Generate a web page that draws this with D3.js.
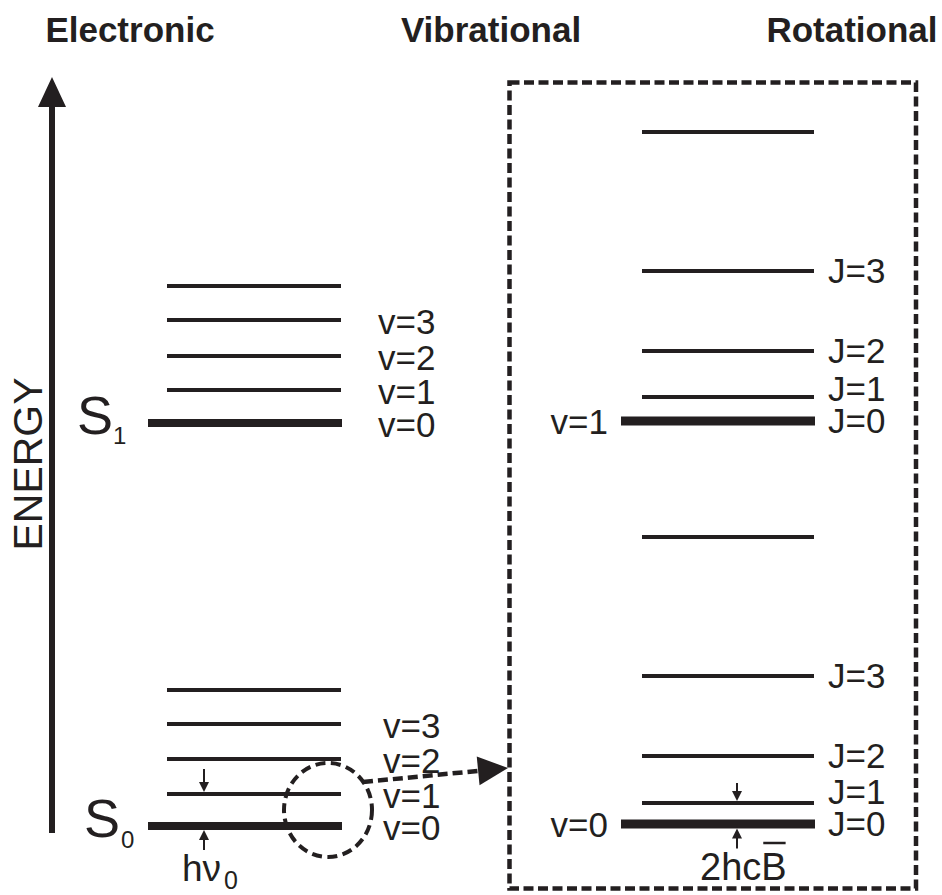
<!DOCTYPE html>
<html>
<head>
<meta charset="utf-8">
<script src="https://cdn.jsdelivr.net/npm/d3@7"></script>
<style>
  html, body { margin: 0; padding: 0; background: #fff; }
  svg { display: block; }
  text { font-family: "Liberation Sans", Arial, Helvetica, sans-serif; fill: #231f20; }
</style>
</head>
<body>
<svg id="chart" width="942" height="895"></svg>
<script>
// ---------- data ----------
const panelTitles = ["Electronic", "Vibrational", "Rotational"];
const axisLabel = "ENERGY";

// electronic states (energy, arbitrary units; S0 v=0 = 0)
const electronicStates = ["S0", "S1"];
const s0VibLevels = [0, 32, 67, 102, 136];       // v = 0..4
const s1VibLevels = [403, 436, 470, 506, 540];   // v = 0..4
const vibLabels = ["v=0", "v=1", "v=2", "v=3"];

// rotational structure (energy, arbitrary units; v=0,J=0 = 0)
const rotV0Levels = [0, 21, 68, 148, 287];        // J = 0..4
const rotV1Origin = 403;
const rotV1Offsets = [0, 24, 70, 150, 289];       // J = 0..4 above v=1
const rotLabels = ["J=0", "J=1", "J=2", "J=3"];
const rotVibLabels = ["v=0", "v=1"];

// ---------- setup ----------
const ink = "#231f20";
const svg = d3.select("#chart");

// scales
const yLeft = d3.scaleLinear().domain([0, 749]).range([826, 77]);
const yRot = d3.scaleLinear().domain([0, 692]).range([824, 132]);
const xLeft = d3.scaleLinear().domain([0, 1]).range([167, 341]);
const xLeftThick = d3.scaleLinear().domain([0, 1]).range([148, 342]);
const xRot = d3.scaleLinear().domain([0, 1]).range([642, 814]);
const xRotThick = d3.scaleLinear().domain([0, 1]).range([621, 815]);
const xTitle = d3.scalePoint().domain(panelTitles).range([130, 852]);

// titles
svg.selectAll("text.title").data(panelTitles).join("text")
  .attr("class", "title")
  .attr("x", d => xTitle(d)).attr("y", 42)
  .attr("text-anchor", "middle")
  .style("font-weight", "bold").style("font-size", "35px")
  .text(d => d);

// energy axis arrow
const axisX = 52;
svg.append("line")
  .attr("x1", axisX).attr("x2", axisX)
  .attr("y1", yLeft(0) + 7).attr("y2", yLeft(749) + 30)
  .attr("stroke", ink).attr("stroke-width", 6);
svg.append("path")
  .attr("d", `M${axisX - 14},${yLeft(749) + 30} L${axisX + 14},${yLeft(749) + 30} L${axisX},${yLeft(749)} Z`)
  .attr("fill", ink);
svg.append("text")
  .attr("transform", `translate(42, 464) rotate(-90)`)
  .attr("text-anchor", "middle")
  .style("font-size", "41px")
  .text(axisLabel);

// vibrational level groups
function drawVibGroup(levels, labelX, sX, subX, stateName, subDy) {
  const g = svg.append("g");
  levels.forEach((e, i) => {
    const thick = i === 0;
    g.append("line")
      .attr("x1", thick ? xLeftThick(0) : xLeft(0))
      .attr("x2", thick ? xLeftThick(1) : xLeft(1))
      .attr("y1", yLeft(e)).attr("y2", yLeft(e))
      .attr("stroke", ink).attr("stroke-width", thick ? 8 : 4);
  });
  let prev = Infinity;
  vibLabels.forEach((lab, i) => {
    let b = Math.min(yLeft(levels[i]) + 13.5, prev - 32);
    prev = b;
    g.append("text").attr("x", labelX).attr("y", b)
      .style("font-size", "35px").text(lab);
  });
  const base = yLeft(levels[0]) + 11;
  g.append("text").attr("x", sX).attr("y", base)
    .style("font-size", "54px").text(stateName[0]);
  g.append("text").attr("x", subX).attr("y", base + subDy)
    .style("font-size", "24px").text(stateName[1]);
  return g;
}
drawVibGroup(s1VibLevels, 378, 77, 113, electronicStates[1], 10);
drawVibGroup(s0VibLevels, 383, 84, 121, electronicStates[0], 11);

// small arrows
function arrowDown(x, tipY, len) {
  svg.append("line").attr("x1", x).attr("x2", x).attr("y1", tipY - len).attr("y2", tipY - 8)
    .attr("stroke", ink).attr("stroke-width", 2);
  svg.append("path").attr("d", `M${x - 5},${tipY - 10} L${x + 5},${tipY - 10} L${x},${tipY} Z`).attr("fill", ink);
}
function arrowUp(x, tipY, len) {
  svg.append("line").attr("x1", x).attr("x2", x).attr("y1", tipY + 8).attr("y2", tipY + len)
    .attr("stroke", ink).attr("stroke-width", 2);
  svg.append("path").attr("d", `M${x - 5},${tipY + 10} L${x + 5},${tipY + 10} L${x},${tipY} Z`).attr("fill", ink);
}
arrowDown(204, yLeft(s0VibLevels[1]) - 2, 23);
arrowUp(204, yLeft(s0VibLevels[0]) + 4, 20);

// h nu_0
svg.append("text").attr("x", 182).attr("y", 881).style("font-size", "37px").text("hν");
svg.append("text").attr("x", 224).attr("y", 889).style("font-size", "25px").text("0");

// dashed ellipse & dashed arrow
svg.append("ellipse")
  .attr("cx", 328).attr("cy", 810).attr("rx", 44).attr("ry", 47)
  .attr("fill", "none").attr("stroke", ink).attr("stroke-width", 4)
  .attr("stroke-dasharray", "10,5.5");
const tip = [508, 768], start = [363, 782];
const dx = tip[0] - start[0], dy = tip[1] - start[1], L = Math.hypot(dx, dy);
const ux = dx / L, uy = dy / L, headLen = 30, headHalf = 14.5;
const bx = tip[0] - ux * headLen, by = tip[1] - uy * headLen;
svg.append("line")
  .attr("x1", start[0]).attr("y1", start[1]).attr("x2", bx + ux * 2).attr("y2", by + uy * 2)
  .attr("stroke", ink).attr("stroke-width", 4.5).attr("stroke-dasharray", "10,5");
svg.append("path")
  .attr("d", `M${tip[0]},${tip[1]} L${bx - uy * headHalf},${by + ux * headHalf} L${bx + uy * headHalf},${by - ux * headHalf} Z`)
  .attr("fill", ink);

// dashed box
svg.append("rect")
  .attr("x", 509.5).attr("y", 82.5).attr("width", 406.5).attr("height", 806)
  .attr("fill", "none").attr("stroke", ink).attr("stroke-width", 4.5)
  .attr("stroke-dasharray", "10,4.5");

// rotational groups
function drawRotGroup(levels, vibLabel) {
  const g = svg.append("g");
  levels.forEach((e, i) => {
    const thick = i === 0;
    g.append("line")
      .attr("x1", thick ? xRotThick(0) : xRot(0))
      .attr("x2", thick ? xRotThick(1) : xRot(1))
      .attr("y1", yRot(e)).attr("y2", yRot(e))
      .attr("stroke", ink).attr("stroke-width", thick ? 9 : 4);
  });
  let prev = Infinity;
  rotLabels.forEach((lab, i) => {
    let b = Math.min(yRot(levels[i]) + 12, prev - 32);
    prev = b;
    g.append("text").attr("x", 828).attr("y", b)
      .style("font-size", "35px").text(lab);
  });
  g.append("text").attr("x", 608).attr("y", yRot(levels[0]) + 13)
    .attr("text-anchor", "end").style("font-size", "35px").text(vibLabel);
}
drawRotGroup(rotV0Levels, rotVibLabels[0]);
drawRotGroup(rotV1Offsets.map(d => d + rotV1Origin), rotVibLabels[1]);

arrowDown(737, yRot(rotV0Levels[1]) - 2, 18);
arrowUp(737, yRot(rotV0Levels[0]) + 4.5, 20);

// 2hcB-bar
const bt = svg.append("text").attr("x", 700).attr("y", 880).style("font-size", "38px").text("2hcB");
const node = bt.node();
const bStart = node.getStartPositionOfChar(3).x;
const bEnd = node.getEndPositionOfChar(3).x;
svg.append("line")
  .attr("x1", bStart + 2).attr("x2", bEnd - 1)
  .attr("y1", 843).attr("y2", 843)
  .attr("stroke", ink).attr("stroke-width", 2.5);
</script>
</body>
</html>
